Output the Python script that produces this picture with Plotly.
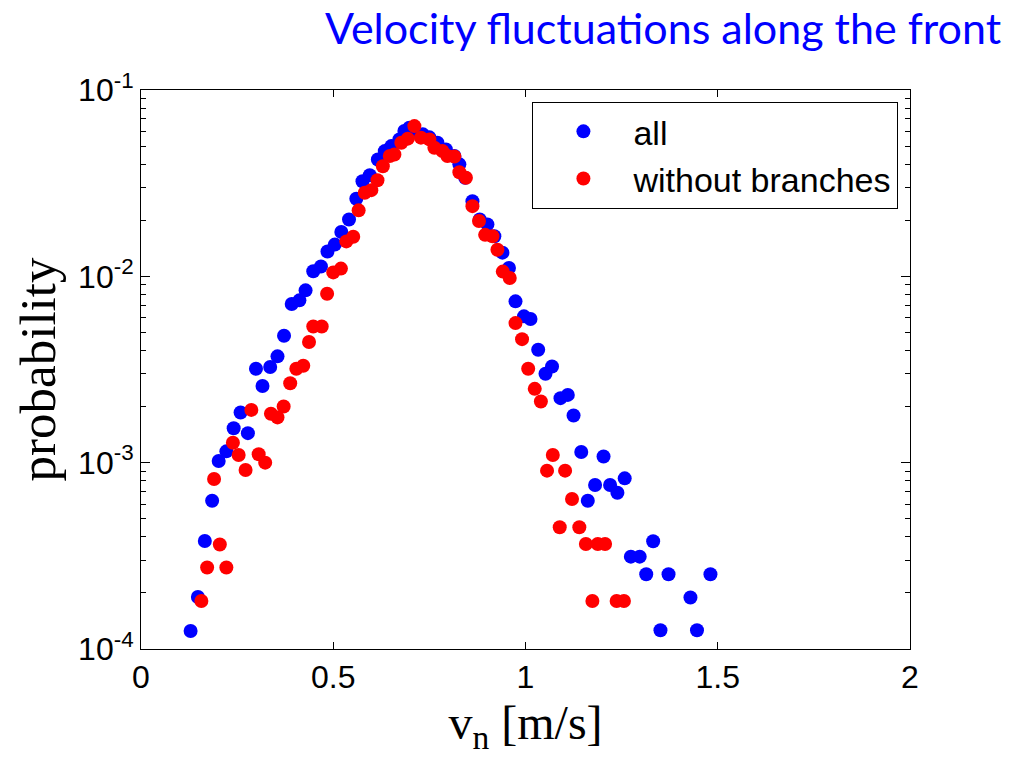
import plotly.graph_objects as go

# ---- data ----
v_all = [0.129, 0.148, 0.166, 0.185, 0.202, 0.222, 0.241, 0.259, 0.278, 0.299,
         0.316, 0.336, 0.355, 0.372, 0.392, 0.412, 0.428, 0.448, 0.468, 0.485,
         0.504, 0.521, 0.541, 0.560, 0.576, 0.595, 0.616, 0.634, 0.651, 0.672,
         0.685, 0.698, 0.710, 0.733, 0.750, 0.771, 0.793, 0.815, 0.828, 0.843,
         0.862, 0.881, 0.901, 0.919, 0.940, 0.957, 0.974, 0.996, 1.013, 1.033,
         1.052, 1.069, 1.091, 1.110, 1.125, 1.145, 1.162, 1.181, 1.203, 1.220,
         1.239, 1.258, 1.274, 1.297, 1.314, 1.332, 1.351, 1.372, 1.429, 1.446,
         1.481]
p_all = [1.25e-4, 1.9e-4, 3.8e-4, 6.25e-4, 1.02e-3, 1.15e-3, 1.53e-3, 1.86e-3, 1.44e-3, 3.19e-3,
         2.58e-3, 3.26e-3, 3.72e-3, 4.8e-3, 7.11e-3, 7.43e-3, 8.41e-3, 1.064e-2, 1.13e-2, 1.36e-2,
         1.48e-2, 1.73e-2, 2.02e-2, 2.61e-2, 3.24e-2, 3.49e-2, 4.24e-2, 4.70e-2, 5.0e-2, 5.43e-2,
         6.03e-2, 6.28e-2, 6.1e-2, 5.78e-2, 5.57e-2, 5.21e-2, 4.80e-2, 4.42e-2, 3.99e-2, 3.38e-2,
         2.53e-2, 2.02e-2, 1.90e-2, 1.64e-2, 1.34e-2, 1.11e-2, 7.34e-3, 6.10e-3, 5.90e-3, 4.04e-3,
         3.0e-3, 3.28e-3, 2.22e-3, 2.31e-3, 1.79e-3, 1.14e-3, 6.25e-4, 7.59e-4, 1.08e-3, 7.59e-4,
         6.9e-4, 8.24e-4, 3.13e-4, 3.13e-4, 2.52e-4, 3.79e-4, 1.26e-4, 2.52e-4, 1.89e-4, 1.26e-4,
         2.52e-4]

v_nobr = [0.157, 0.172, 0.190, 0.205, 0.222, 0.239, 0.254, 0.272, 0.287, 0.306,
          0.323, 0.338, 0.355, 0.371, 0.388, 0.404, 0.422, 0.437, 0.448, 0.470,
          0.484, 0.500, 0.520, 0.534, 0.552, 0.566, 0.582, 0.599, 0.615, 0.629,
          0.647, 0.659, 0.677, 0.694, 0.711, 0.728, 0.750, 0.763, 0.784, 0.797,
          0.815, 0.828, 0.845, 0.862, 0.879, 0.895, 0.914, 0.927, 0.941, 0.959,
          0.974, 0.991, 1.007, 1.024, 1.040, 1.056, 1.071, 1.089, 1.103, 1.121,
          1.140, 1.157, 1.174, 1.188, 1.207, 1.237, 1.256]
p_nobr = [1.81e-4, 2.74e-4, 8.17e-4, 3.64e-4, 2.74e-4, 1.28e-3, 1.10e-3, 9.14e-4, 1.92e-3, 1.11e-3,
          1.0e-3, 1.83e-3, 1.75e-3, 2.0e-3, 2.67e-3, 3.19e-3, 3.31e-3, 4.44e-3, 5.38e-3, 5.38e-3,
          8.07e-3, 1.05e-2, 1.10e-2, 1.54e-2, 1.63e-2, 2.26e-2, 2.81e-2, 2.90e-2, 3.28e-2, 3.90e-2,
          4.42e-2, 4.51e-2, 5.21e-2, 5.48e-2, 6.40e-2, 5.55e-2, 5.43e-2, 4.90e-2, 4.70e-2, 4.42e-2,
          4.40e-2, 3.62e-2, 3.38e-2, 2.38e-2, 1.98e-2, 1.67e-2, 1.64e-2, 1.39e-2, 1.06e-2, 9.8e-3,
          5.61e-3, 4.60e-3, 3.19e-3, 2.49e-3, 2.13e-3, 9.06e-4, 1.10e-3, 4.50e-4, 9.06e-4, 6.38e-4,
          4.50e-4, 3.66e-4, 1.81e-4, 3.66e-4, 3.66e-4, 1.81e-4, 1.81e-4]

x_ticks = [0, 0.5, 1, 1.5, 2]
x_tick_text = ["0", "0.5", "1", "1.5", "2"]
y_ticks = [1e-4, 1e-3, 1e-2, 1e-1]
y_tick_text = ["10<sup>-4</sup>", "10<sup>-3</sup>", "10<sup>-2</sup>", "10<sup>-1</sup>"]
y_minor = [m * 10.0 ** e for e in (-4, -3, -2) for m in range(2, 10)]

fig = go.Figure()
fig.add_trace(go.Scatter(x=v_all, y=p_all, mode="markers", name="all",
                         marker=dict(color="#0000FF", size=14, line=dict(width=0))))
fig.add_trace(go.Scatter(x=v_nobr, y=p_nobr, mode="markers", name="without branches",
                         marker=dict(color="#FF0000", size=14, line=dict(width=0))))

fig.update_layout(
    width=1010, height=769,
    margin=dict(l=141, r=100, t=90, b=120),
    paper_bgcolor="white", plot_bgcolor="white",
    font=dict(family="Liberation Sans, Arial", color="black"),
    showlegend=True,
    legend=dict(x=0.509, y=0.979, xanchor="left", yanchor="top",
                bgcolor="white", bordercolor="black", borderwidth=1,
                font=dict(size=34, family="Liberation Sans, Arial"),
                itemwidth=90, tracegroupgap=0),
    xaxis=dict(range=[0, 2], tickmode="array", tickvals=x_ticks, ticktext=x_tick_text,
               ticks="inside", ticklen=7, tickwidth=1, tickcolor="black",
               showline=True, linecolor="black", linewidth=1, mirror="ticks",
               showgrid=False, zeroline=False,
               tickfont=dict(size=32, family="Liberation Sans, Arial"),
               title=dict(text="v<sub>n</sub> [m/s]",
                          font=dict(size=48, family="Liberation Serif, Times New Roman"),
                          standoff=10)),
    yaxis=dict(type="log", range=[-4, -1], tickmode="array", tickvals=y_ticks,
               ticktext=y_tick_text,
               ticks="inside", ticklen=9, tickwidth=1, tickcolor="black",
               minor=dict(tickmode="array", tickvals=y_minor, ticks="inside",
                          ticklen=5, tickcolor="black", showgrid=False),
               showline=True, linecolor="black", linewidth=1, mirror="ticks",
               showgrid=False, zeroline=False,
               tickfont=dict(size=32, family="Liberation Sans, Arial"),
               title=dict(text="probability",
                          font=dict(size=51, family="Liberation Serif, Times New Roman"),
                          standoff=6)),
    annotations=[dict(text="Velocity fluctuations along the front", xref="paper", yref="paper",
                      x=1.121, y=1.0, xanchor="right", yanchor="bottom", yshift=35,
                      showarrow=False, font=dict(size=43, family="Lato", color="#0000FF"))],
)

fig.write_html("out.html")
